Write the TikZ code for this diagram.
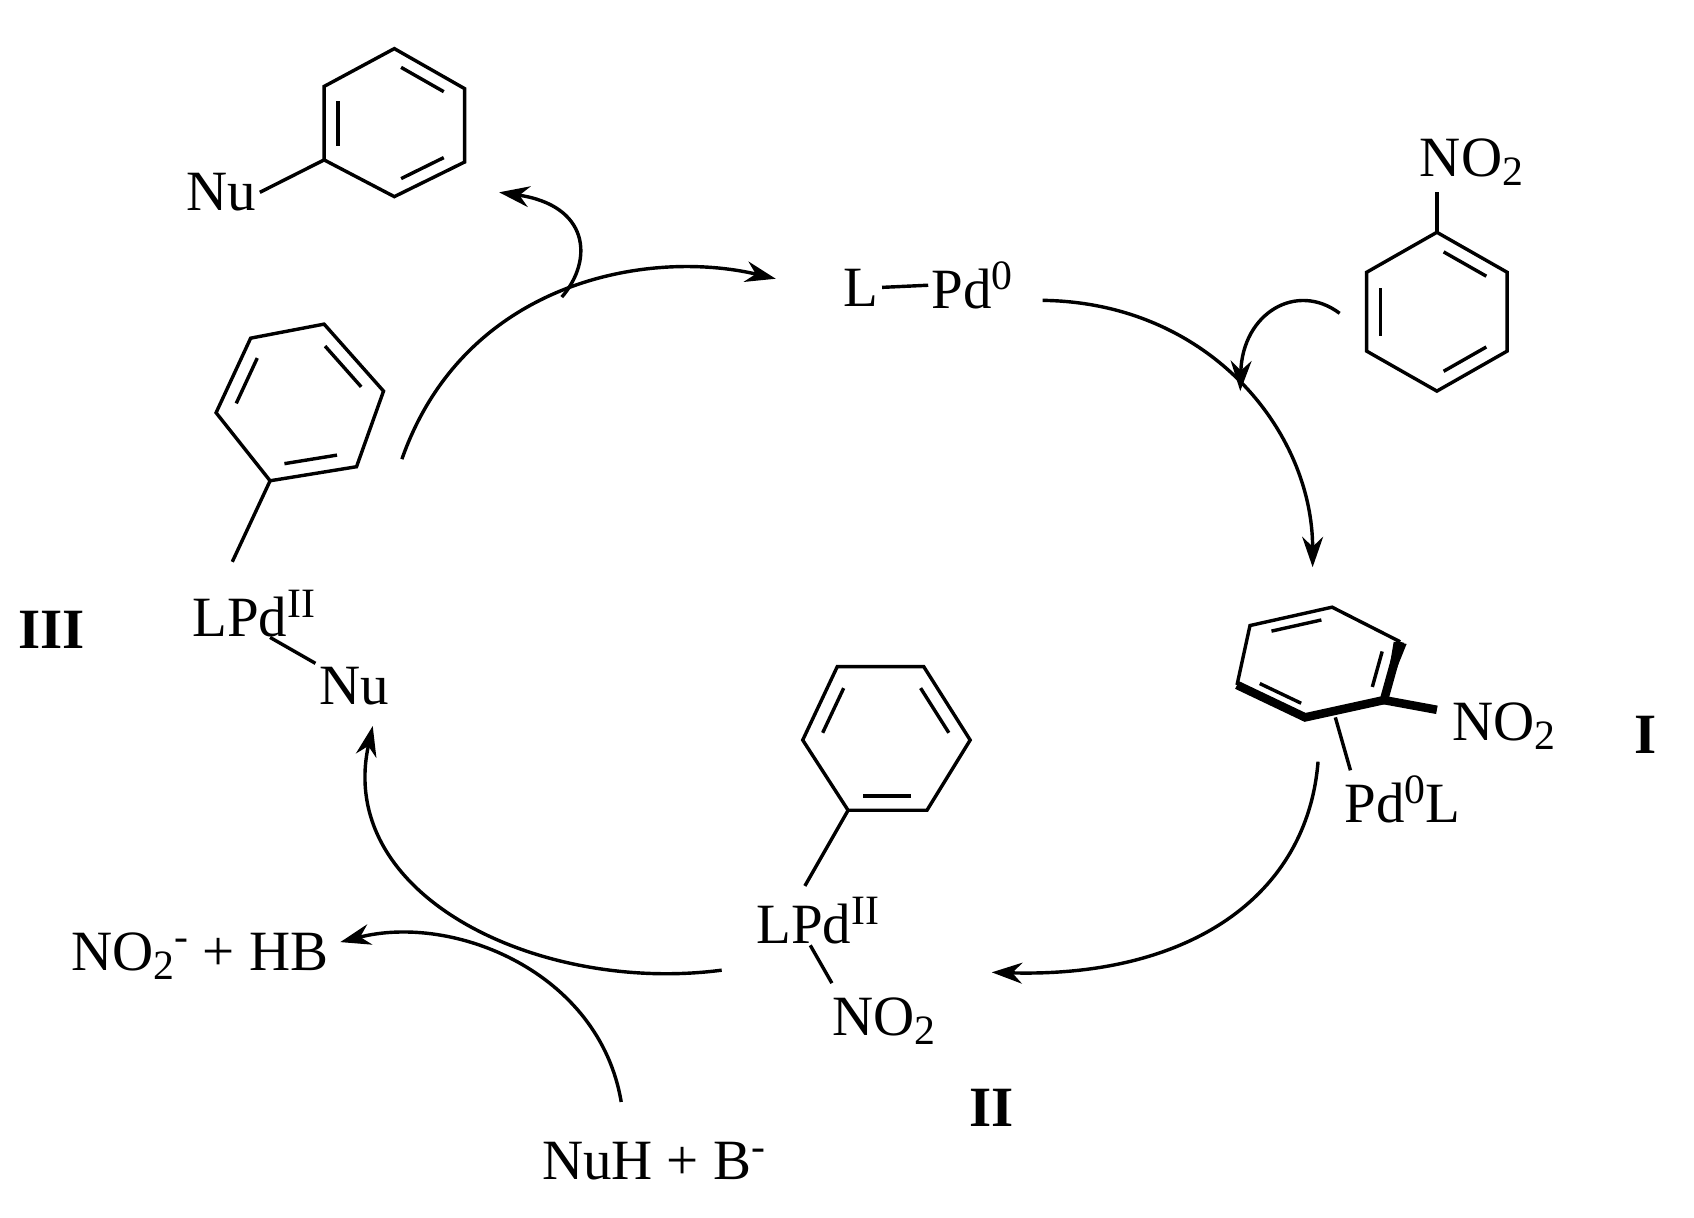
\documentclass[tikz,border=0pt]{standalone}
\usetikzlibrary{calc,arrows.meta}
\usepackage{fontspec}
\setmainfont{Liberation Serif}
\newcommand{\dbl}[3]{\path coordinate (t1) at ($(#3)!0.8!(#1)$) coordinate (t2) at ($(#3)!0.8!(#2)$);
\draw ($(t1)!0.12!(t2)$) -- ($(t2)!0.12!(t1)$);}
\newcommand{\sub}[1]{\raisebox{-0.35ex}{\fontsize{22}{24}\selectfont #1}}
\newcommand{\sups}[1]{\raisebox{0.75ex}{\fontsize{22}{24}\selectfont #1}}
\begin{document}
\begin{tikzpicture}[x=0.02cm,y=-0.02cm,line width=1.8pt,
  lbl/.style={font=\fontsize{30}{36}\selectfont,inner sep=1pt},
  arr/.style={-{Stealth[length=16pt,width=11pt]}}]
\useasboundingbox (0,0) rectangle (1568,1127);
% top-left product
\coordinate (a1) at (300,80);\coordinate (a2) at (365,45);\coordinate (a3) at (430,82);
\coordinate (a4) at (430,150);\coordinate (a5) at (365,182);\coordinate (a6) at (300,148);
\coordinate (ac) at (365,114);
\draw (a1)--(a2)--(a3)--(a4)--(a5)--(a6)--cycle;
\dbl{a2}{a3}{ac}\dbl{a4}{a5}{ac}\dbl{a6}{a1}{ac}
\node[lbl] (nu1) at (205,178) {Nu};
\draw (a6) -- (nu1.east);
% L-Pd0
\node[lbl] (L) at (797,266) {L};
\node[lbl] (pd0) at (900,264) {Pd\sups{0}};
\draw (L.east) -- (pd0.west);
% nitrobenzene
\coordinate (b1) at (1330,215);\coordinate (b2) at (1395,252);\coordinate (b3) at (1395,325);
\coordinate (b4) at (1330,362);\coordinate (b5) at (1265,325);\coordinate (b6) at (1265,252);
\coordinate (bc) at (1330,288);
\draw (b1)--(b2)--(b3)--(b4)--(b5)--(b6)--cycle;
\dbl{b1}{b2}{bc}\dbl{b3}{b4}{bc}\dbl{b5}{b6}{bc}
\node[lbl] (no2a) at (1362,150) {NO\sub{2}};
\draw (b1) -- (1330,178);
% complex I
\coordinate (c1) at (1157,579);\coordinate (c2) at (1233,562);\coordinate (c3) at (1296,594);
\coordinate (c4) at (1281,648);\coordinate (c5) at (1208,664);\coordinate (c6) at (1145,634);
\coordinate (cc) at (1220,613);
\draw (c6)--(c1)--(c2)--(c3);
\fill (1290,594) -- (1302,596) -- (c4) -- cycle;
\draw[line width=4.5pt] (c3)--(c4)--(c5)--(c6);
\draw[line width=4.5pt] (c4)--(1330,657);
\dbl{c1}{c2}{cc}\dbl{c3}{c4}{cc}\dbl{c5}{c6}{cc}
\node[lbl] (no2b) at (1392,672) {NO\sub{2}};
\node[lbl] (pdl) at (1298,740) {Pd\sups{0}L};
\draw (1236,664) -- (1250,713);
\node[lbl,font=\fontsize{30}{36}\selectfont\bfseries] (I) at (1523,680) {I};
% complex II
\coordinate (d1) at (775,617);\coordinate (d2) at (855,617);\coordinate (d3) at (898,685);
\coordinate (d4) at (858,750);\coordinate (d5) at (785,750);\coordinate (d6) at (743,685);
\coordinate (dc) at (820,684);
\draw (d1)--(d2)--(d3)--(d4)--(d5)--(d6)--cycle;
\dbl{d2}{d3}{dc}\dbl{d4}{d5}{dc}\dbl{d6}{d1}{dc}
\node[lbl] (lpd2) at (757,852) {LPd\sups{II}};
\draw (d5) -- (745,820);
\node[lbl] (no2c) at (818,945) {NO\sub{2}};
\draw (750,875) -- (770,910);
\node[lbl,font=\fontsize{30}{36}\selectfont\bfseries] (II) at (918,1025) {II};
% complex III
\coordinate (e1) at (232,313);\coordinate (e2) at (300,300);\coordinate (e3) at (355,362);
\coordinate (e4) at (330,432);\coordinate (e5) at (250,445);\coordinate (e6) at (200,382);
\coordinate (ec) at (278,372);
\draw (e1)--(e2)--(e3)--(e4)--(e5)--(e6)--cycle;
\dbl{e2}{e3}{ec}\dbl{e4}{e5}{ec}\dbl{e6}{e1}{ec}
\draw (e5) -- (215,520);
\node[lbl] (lpd3) at (235,568) {LPd\sups{II}};
\node[lbl] (nu3) at (328,635) {Nu};
\draw (250,590) -- (292,614);
\node[lbl,font=\fontsize{30}{36}\selectfont\bfseries] (III) at (48,583) {III};
% side species
\node[lbl] (side1) at (185,885) {NO\sub{2}\sups{-} + HB};
\node[lbl] (side2) at (605,1075) {NuH + B\sups{-}};
% cycle arrows
\draw[arr] (372,425) .. controls (430,260) and (600,230) .. (718,258);
\draw[arr] (520,275) .. controls (550,240) and (545,190) .. (462,178);
\draw[arr] (965,278) .. controls (1120,280) and (1215,400) .. (1215,525);
\draw[arr] (1240,290) .. controls (1200,260) and (1150,290) .. (1148,362);
\draw[arr] (1220,705) .. controls (1210,830) and (1100,905) .. (918,900);
\draw[arr] (668,898) .. controls (500,920) and (310,830) .. (345,672);
\draw[arr] (575,1020) .. controls (555,900) and (420,845) .. (315,872);
\end{tikzpicture}
\end{document}
